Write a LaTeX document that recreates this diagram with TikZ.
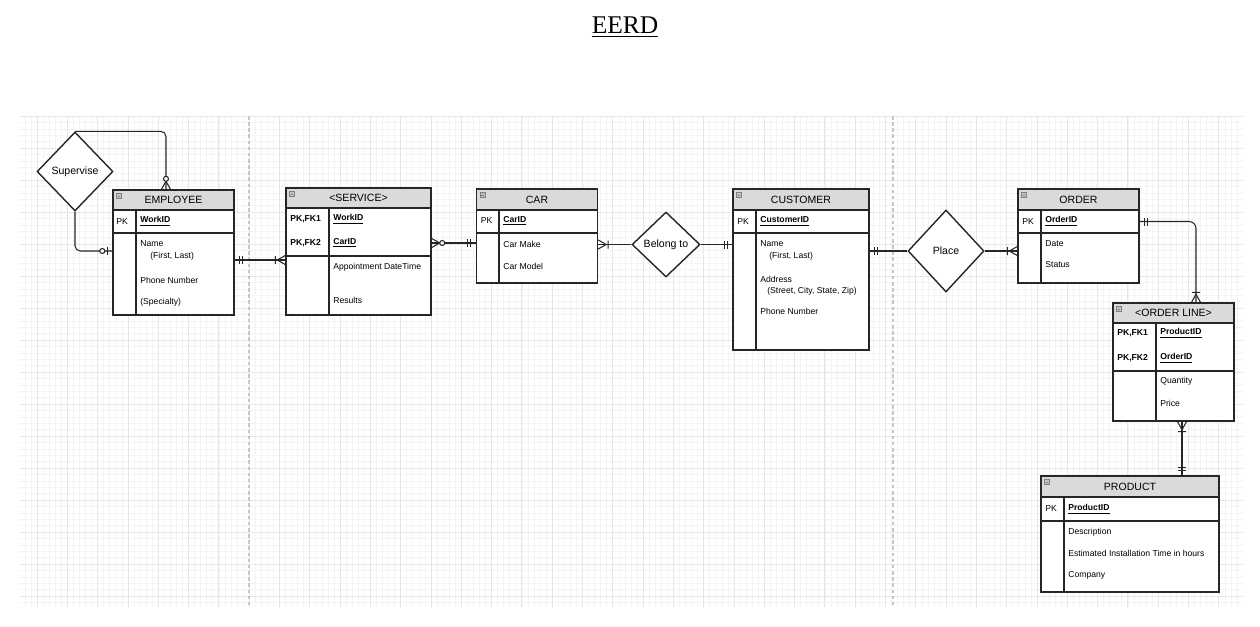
\documentclass[tikz,border=0pt]{standalone}
\usepackage{fontspec}
\setmainfont{Liberation Sans}
\newfontfamily\titlefont{Liberation Serif}
\usetikzlibrary{fit, shapes.geometric}

\definecolor{hdrgray}{RGB}{218,218,218}
\definecolor{gridlo}{RGB}{244,244,244}
\definecolor{gridhi}{RGB}{230,230,230}
\definecolor{iconblue}{RGB}{184,196,214}
\newcommand{\keyattr}[1]{\textbf{\underline{#1}}}

\tikzset{
  entity/.style={draw=black!85, line width=0.8pt, inner sep=0pt, fill=white},
  header/.style={draw=black!85, line width=0.8pt, inner sep=0pt, fill=hdrgray},
  hdrtext/.style={inner sep=0pt, font=\fontsize{6}{7}\selectfont},
  divider/.style={draw=black!85, line width=0.8pt},
  attr/.style={anchor=west, inner sep=0pt, font=\fontsize{4.9}{6}\selectfont},
  icon/.style={draw=gray, fill=iconblue, line width=0.3pt, minimum size=0.1cm, inner sep=0pt,
    path picture={\draw[gray, line width=0.3pt] ([xshift=0.6pt]path picture bounding box.west) -- ([xshift=-0.6pt]path picture bounding box.east);}},
  rel/.style={diamond, draw=black!85, line width=0.8pt, fill=white, inner sep=0pt, font=\fontsize{6}{7}\selectfont},
  conn/.style={draw=black!85, line width=0.6pt},
  gridminor/.style={gridlo, line width=0.3pt},
  gridmajor/.style={gridhi, line width=0.4pt},
  pagebreak/.style={black!22, line width=0.7pt, dash pattern=on 2pt off 1.5pt},
  % crow's foot ends, drawn for a line coming in from +x
  mandone/.pic={\draw[conn] (5,-4) -- (5,4) (8,-4) -- (8,4);},
  onemany/.pic={\draw[conn] (0,-4.5) -- (8,0) -- (0,4.5) (10,-4) -- (10,4);},
  zeromany/.pic={\draw[conn] (0,-4.5) -- (8,0) -- (0,4.5); \draw[conn, fill=white] (10.5,0) circle[radius=2.5];},
  zeroone/.pic={\draw[conn] (5,-4) -- (5,4); \draw[conn, fill=white] (10,0) circle[radius=2.5];},
}

\begin{document}
\begin{tikzpicture}[x=0.02cm, y=-0.02cm]
  \useasboundingbox (0,0) rectangle (1260,626);
  % background grid
  \foreach \i in {3,...,203}
    \draw[gridminor] ({6.7+6.06*\i},116) -- ({6.7+6.06*\i},607);
  \foreach \j in {0,...,76}
    \draw[gridminor] (20,{116+6.4*\j}) -- (1243,{116+6.4*\j});
  \foreach \i in {1,...,40}
    \draw[gridmajor] ({6.7+30.3*\i},116) -- ({6.7+30.3*\i},607);
  \foreach \j in {0,...,15}
    \draw[gridmajor] (20,{116+32*\j}) -- (1243,{116+32*\j});
  \draw[pagebreak] (249,116) -- (249,607);
  \draw[pagebreak] (893,116) -- (893,607);

  \node[font=\titlefont\fontsize{14.5}{16}\selectfont] (title) at (625,27) {\underline{EERD}};

  % EMPLOYEE
  \node[entity, fit={(113,190) (234,315)}] (employee) {};
  \node[header, fit={(113,190) (234,210)}] (employee-h) {};
  \node[hdrtext] (employee-t) at (employee-h.center) {EMPLOYEE};
  \node[icon] (employee-i) at (119,196) {};
  \draw[divider] (employee.west |- 0,233) -- (employee.east |- 0,233);
  \draw[divider] (136,0 |- employee-h.south) -- (136,0 |- employee.south);
  \node[attr] (employee-pk) at (116,221.5) {PK};
  \node[attr] (employee-k1) at (140,221.5) {\keyattr{WorkID}};
  \node[attr] (employee-a1) at (140,244) {Name};
  \node[attr] (employee-a2) at (150,256) {(First, Last)};
  \node[attr] (employee-a3) at (140,280) {Phone Number};
  \node[attr] (employee-a4) at (140,302.5) {(Specialty)};

  % SERVICE
  \node[entity, fit={(286,188) (431,315)}] (service) {};
  \node[header, fit={(286,188) (431,208)}] (service-h) {};
  \node[hdrtext] (service-t) at (service-h.center) {<SERVICE>};
  \node[icon] (service-i) at (292,194) {};
  \draw[divider] (service.west |- 0,256) -- (service.east |- 0,256);
  \draw[divider] (329,0 |- service-h.south) -- (329,0 |- service.south);
  \node[attr] (service-pk1) at (290,219) {\textbf{PK,FK1}};
  \node[attr] (service-k1) at (333,219) {\keyattr{WorkID}};
  \node[attr] (service-pk2) at (290,243) {\textbf{PK,FK2}};
  \node[attr] (service-k2) at (333,243) {\keyattr{CarID}};
  \node[attr] (service-a1) at (333,267) {Appointment DateTime};
  \node[attr] (service-a2) at (333,300) {Results};

  % CAR
  \node[entity, fit={(476.5,189) (597.5,283)}] (car) {};
  \node[header, fit={(476.5,189) (597.5,210)}] (car-h) {};
  \node[hdrtext] (car-t) at (car-h.center) {CAR};
  \node[icon] (car-i) at (482.5,195) {};
  \draw[divider] (car.west |- 0,233) -- (car.east |- 0,233);
  \draw[divider] (499,0 |- car-h.south) -- (499,0 |- car.south);
  \node[attr] (car-pk) at (480.5,221) {PK};
  \node[attr] (car-k1) at (503,221) {\keyattr{CarID}};
  \node[attr] (car-a1) at (503,244) {Car Make};
  \node[attr] (car-a2) at (503,266) {Car Model};

  % CUSTOMER
  \node[entity, fit={(733,189) (869,350)}] (customer) {};
  \node[header, fit={(733,189) (869,210)}] (customer-h) {};
  \node[hdrtext] (customer-t) at (customer-h.center) {CUSTOMER};
  \node[icon] (customer-i) at (739,195) {};
  \draw[divider] (customer.west |- 0,233) -- (customer.east |- 0,233);
  \draw[divider] (756,0 |- customer-h.south) -- (756,0 |- customer.south);
  \node[attr] (customer-pk) at (737,221.5) {PK};
  \node[attr] (customer-k1) at (760,221.5) {\keyattr{CustomerID}};
  \node[attr] (customer-a1) at (760,244) {Name};
  \node[attr] (customer-a2) at (769,256) {(First, Last)};
  \node[attr] (customer-a3) at (760,279) {Address};
  \node[attr] (customer-a4) at (767,291) {(Street, City, State, Zip)};
  \node[attr] (customer-a5) at (760,311) {Phone Number};

  % ORDER
  \node[entity, fit={(1018,189) (1139,283)}] (order) {};
  \node[header, fit={(1018,189) (1139,210)}] (order-h) {};
  \node[hdrtext] (order-t) at (order-h.center) {ORDER};
  \node[icon] (order-i) at (1024,195) {};
  \draw[divider] (order.west |- 0,233) -- (order.east |- 0,233);
  \draw[divider] (1041,0 |- order-h.south) -- (1041,0 |- order.south);
  \node[attr] (order-pk) at (1022,221.5) {PK};
  \node[attr] (order-k1) at (1045,221.5) {\keyattr{OrderID}};
  \node[attr] (order-a1) at (1045,244) {Date};
  \node[attr] (order-a2) at (1045,265) {Status};

  % ORDER LINE
  \node[entity, fit={(1113,303) (1234,421)}] (orderline) {};
  \node[header, fit={(1113,303) (1234,323)}] (orderline-h) {};
  \node[hdrtext] (orderline-t) at (orderline-h.center) {<ORDER LINE>};
  \node[icon] (orderline-i) at (1119,309) {};
  \draw[divider] (orderline.west |- 0,371) -- (orderline.east |- 0,371);
  \draw[divider] (1156,0 |- orderline-h.south) -- (1156,0 |- orderline.south);
  \node[attr] (orderline-pk1) at (1117,333.5) {\textbf{PK,FK1}};
  \node[attr] (orderline-k1) at (1160,333.5) {\keyattr{ProductID}};
  \node[attr] (orderline-pk2) at (1117,358) {\textbf{PK,FK2}};
  \node[attr] (orderline-k2) at (1160,358) {\keyattr{OrderID}};
  \node[attr] (orderline-a1) at (1160,381) {Quantity};
  \node[attr] (orderline-a2) at (1160,403.5) {Price};

  % PRODUCT
  \node[entity, fit={(1041,476) (1219,592)}] (product) {};
  \node[header, fit={(1041,476) (1219,497)}] (product-h) {};
  \node[hdrtext] (product-t) at (product-h.center) {PRODUCT};
  \node[icon] (product-i) at (1047,482) {};
  \draw[divider] (product.west |- 0,521) -- (product.east |- 0,521);
  \draw[divider] (1064,0 |- product-h.south) -- (1064,0 |- product.south);
  \node[attr] (product-pk) at (1045,509) {PK};
  \node[attr] (product-k1) at (1068,509) {\keyattr{ProductID}};
  \node[attr] (product-a1) at (1068,532) {Description};
  \node[attr] (product-a2) at (1068,553) {Estimated Installation Time in hours};
  \node[attr] (product-a3) at (1068,575) {Company};

  % relationships
  \node[rel, minimum width=1.52cm, minimum height=1.58cm] (supervise) at (75,171.5) {Supervise};
  \node[rel, minimum width=1.36cm, minimum height=1.3cm] (belong) at (666,244.5) {Belong to};
  \node[rel, minimum width=1.52cm, minimum height=1.64cm] (place) at (946,251) {Place};

  % connectors
  \draw[conn, rounded corners=3] (supervise.north) -| (employee.north -| 166,0);
  \draw[conn, rounded corners=3] (supervise.south) |- (employee.west |- 0,251);
  \draw[conn] (employee.east |- 0,260) -- (service.west |- 0,260);
  \draw[conn] (service.east |- 0,243) -- (car.west |- 0,243);
  \draw[conn] (car.east |- belong.west) -- (belong.west);
  \draw[conn] (belong.east) -- (customer.west |- belong.east);
  \draw[conn] (customer.east |- place.west) -- (place.west);
  \draw[conn] (place.east) -- (order.west |- place.east);
  \draw[conn, rounded corners=4] (order.east |- 0,221.5) -| (orderline.north -| 1196,0);
  \draw[conn] (1182,0 |- orderline.south) -- (1182,0 |- product.north);

  % line ends
  \pic[rotate=90] at (employee.north -| 166,0) {zeromany};
  \pic[rotate=180] at (employee.west |- 0,251) {zeroone};
  \pic at (employee.east |- 0,260) {mandone};
  \pic[rotate=180] at (service.west |- 0,260) {onemany};
  \pic at (service.east |- 0,243) {zeromany};
  \pic[rotate=180] at (car.west |- 0,243) {mandone};
  \pic at (car.east |- belong.west) {onemany};
  \pic[rotate=180] at (customer.west |- belong.east) {mandone};
  \pic at (customer.east |- place.west) {mandone};
  \pic[rotate=180] at (order.west |- place.east) {onemany};
  \pic at (order.east |- 0,221.5) {mandone};
  \pic[rotate=90] at (orderline.north -| 1196,0) {onemany};
  \pic[rotate=-90] at (orderline.south -| 1182,0) {onemany};
  \pic[rotate=90] at (product.north -| 1182,0) {mandone};
\end{tikzpicture}
\end{document}
